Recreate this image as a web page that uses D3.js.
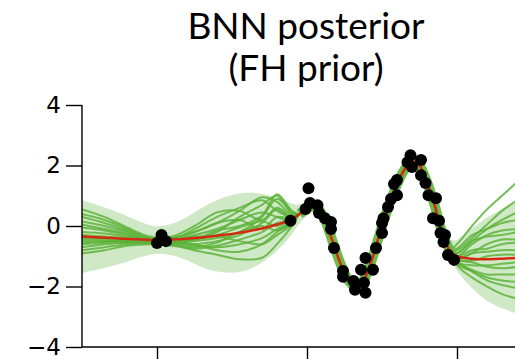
<!DOCTYPE html>
<html>
<head>
<meta charset="utf-8">
<script src="https://cdn.jsdelivr.net/npm/d3@7"></script>
<style>
  html, body { margin: 0; padding: 0; background: #fff; }
  svg { display: block; }
  text { fill: #000; }
</style>
</head>
<body>
<svg id="chart" width="515" height="359"></svg>
<script>
// ---------------- DATA ----------------
const titleLines = ["BNN posterior", "(FH prior)"];
const yTicks = [-4, -2, 0, 2, 4];
const xTicks = [-1, 0, 1];

// observed data points
const pointX = [-1.00, -0.97, -0.94, -0.11, -0.01, 0.01, 0.02, 0.07, 0.08, 0.12, 0.16, 0.16, 0.18,
  0.24, 0.24, 0.31, 0.32, 0.36, 0.38, 0.39, 0.39, 0.44, 0.46, 0.50, 0.50, 0.51, 0.54, 0.56, 0.60,
  0.58, 0.60, 0.67, 0.69, 0.70, 0.76, 0.76, 0.79, 0.81, 0.86, 0.84, 0.88, 0.89, 0.92, 0.91, 0.94, 0.98];
const pointY = [-0.56, -0.30, -0.50, 0.17, 0.56, 1.25, 0.76, 0.69, 0.43, 0.26, 0.13, -0.10, -0.73,
  -1.49, -1.68, -1.82, -2.11, -1.45, -1.88, -1.06, -2.21, -1.45, -0.73, -0.23, 0.10, 0.26, 0.63, 0.89, 1.02,
  1.39, 1.52, 2.11, 2.34, 1.95, 2.18, 1.68, 1.42, 1.02, 0.92, 0.26, 0.17, -0.23, -0.30, -0.53, -0.96, -1.12];

// posterior mean and spread (band = mean ± sd)
const meanX = [-1.5, -1.3, -1.1, -1.0, -0.9, -0.8, -0.7, -0.6, -0.5, -0.4, -0.3, -0.2, -0.1, -0.05,
  0.0, 0.03, 0.07, 0.12, 0.17, 0.22, 0.27, 0.32, 0.37, 0.42, 0.47, 0.52, 0.57, 0.62, 0.67, 0.71, 0.75,
  0.80, 0.85, 0.90, 0.95, 1.0, 1.1, 1.2, 1.3, 1.4];
const meanY = [-0.35, -0.40, -0.45, -0.47, -0.45, -0.42, -0.38, -0.32, -0.26, -0.18, -0.08, 0.05, 0.22, 0.40,
  0.58, 0.66, 0.58, 0.20, -0.50, -1.20, -1.75, -2.00, -1.85, -1.30, -0.50, 0.30, 1.00, 1.60, 2.00, 2.12, 2.00,
  1.45, 0.70, -0.20, -0.80, -1.00, -1.08, -1.10, -1.08, -1.05];
const meanSd = [1.20, 0.95, 0.55, 0.42, 0.50, 0.70, 1.00, 1.20, 1.30, 1.30, 1.15, 0.90, 0.50, 0.30,
  0.22, 0.20, 0.20, 0.20, 0.20, 0.20, 0.22, 0.22, 0.20, 0.20, 0.20, 0.20, 0.20, 0.20, 0.20, 0.20, 0.20,
  0.20, 0.20, 0.25, 0.30, 0.50, 1.00, 1.40, 1.65, 1.85];

// posterior function samples: left gap knots and right gap knots
const sampleLeftX = [-1.5, -1.35, -1.2, -1.05, -0.9, -0.75, -0.6, -0.45, -0.3, -0.2, -0.1];
const sampleRightX = [1.0, 1.1, 1.2, 1.3, 1.4];
const sampleLeft = [
  [0.55, 0.30, -0.05, -0.35, -0.40, -0.20, 0.10, 0.50, 0.95, 0.80, 0.35],
  [0.40, 0.20, -0.10, -0.40, -0.50, -0.45, -0.20, 0.30, 0.70, 1.00, 0.40],
  [0.30, 0.10, -0.15, -0.40, -0.35, 0.00, 0.45, 0.50, 0.20, 0.60, 0.30],
  [0.15, 0.00, -0.20, -0.45, -0.55, -0.60, -0.50, -0.30, 0.10, 0.55, 0.20],
  [0.05, -0.10, -0.25, -0.45, -0.45, -0.30, -0.10, 0.20, 0.45, 0.30, 0.15],
  [-0.05, -0.15, -0.30, -0.45, -0.60, -0.80, -0.95, -1.10, -1.05, -0.60, 0.00],
  [-0.20, -0.25, -0.35, -0.45, -0.40, -0.20, 0.10, 0.20, -0.10, 0.30, 0.25],
  [-0.30, -0.35, -0.40, -0.50, -0.55, -0.50, -0.40, -0.20, 0.30, 0.90, 0.45],
  [-0.40, -0.40, -0.45, -0.50, -0.55, -0.65, -0.70, -0.60, -0.40, -0.10, 0.10],
  [-0.45, -0.45, -0.50, -0.50, -0.45, -0.35, -0.35, -0.50, -0.60, -0.30, 0.05],
  [-0.55, -0.50, -0.50, -0.50, -0.50, -0.60, -0.80, -0.85, -0.60, -0.20, 0.15],
  [-0.60, -0.55, -0.55, -0.55, -0.45, -0.10, 0.30, 0.60, 0.85, 0.50, 0.30],
  [-0.70, -0.60, -0.55, -0.55, -0.60, -0.70, -0.55, -0.20, 0.00, -0.15, 0.10],
  [-0.80, -0.70, -0.60, -0.55, -0.55, -0.45, -0.15, 0.00, 0.35, 1.05, 0.50],
  [-0.90, -0.80, -0.65, -0.60, -0.65, -0.75, -0.65, -0.45, -0.20, 0.10, 0.20],
  [-0.50, -0.50, -0.50, -0.50, -0.50, -0.45, -0.30, -0.05, 0.15, 0.00, 0.20]
];
const sampleRight = [
  [-0.60, 0.00, 0.55, 1.00, 1.45],
  [-0.80, -0.40, 0.05, 0.50, 0.85],
  [-0.90, -0.50, -0.10, 0.20, 0.45],
  [-0.75, -0.30, -0.10, 0.10, 0.20],
  [-1.00, -0.60, -0.30, -0.15, -0.10],
  [-0.90, -0.50, -0.35, -0.30, -0.20],
  [-1.10, -0.90, -0.60, -0.45, -0.45],
  [-1.00, -0.80, -0.75, -0.60, -0.55],
  [-1.05, -0.90, -0.85, -0.80, -0.80],
  [-1.10, -1.15, -1.00, -0.95, -0.95],
  [-1.20, -1.30, -1.30, -1.25, -1.20],
  [-1.10, -1.20, -1.35, -1.40, -1.35],
  [-1.20, -1.45, -1.60, -1.60, -1.60],
  [-1.25, -1.50, -1.70, -1.80, -1.85],
  [-1.15, -1.50, -1.80, -1.95, -2.05],
  [-1.30, -1.70, -2.00, -2.25, -2.40]
];

// ---------------- CHART ----------------
const svg = d3.select("#chart");
const x = d3.scaleLinear().domain([-1.5, 1.5]).range([82, 532]);
const y = d3.scaleLinear().domain([-4, 4]).range([347, 105]);

svg.append("defs").append("clipPath").attr("id", "plotclip")
  .append("rect").attr("x", 82).attr("y", 95).attr("width", 450).attr("height", 252);

const plot = svg.append("g").attr("clip-path", "url(#plotclip)");

// band
const meanPts = meanX.map((d, i) => ({x: d, m: meanY[i], s: meanSd[i]}));
plot.append("path")
  .datum(meanPts)
  .attr("fill", "#cfe8c6")
  .attr("d", d3.area().curve(d3.curveBasis)
    .x(d => x(d.x)).y0(d => y(d.m - d.s)).y1(d => y(d.m + d.s)));

// samples
const midPts = meanPts.filter(d => d.x >= -0.05 && d.x <= 0.95);
const sampleLine = d3.line().curve(d3.curveCatmullRom.alpha(0.5)).x(d => x(d.x)).y(d => y(d.y));
sampleLeft.forEach((arr, k) => {
  const pts = sampleLeftX.map((d, i) => ({x: d, y: arr[i]}))
    .concat(midPts.map(d => ({x: d.x, y: d.m})))
    .concat(sampleRightX.map((d, i) => ({x: d, y: sampleRight[k][i]})));
  plot.append("path").datum(pts)
    .attr("fill", "none").attr("stroke", "#5db33a").attr("stroke-width", 2)
    .attr("stroke-opacity", 0.85).attr("d", sampleLine);
});

// overlapping samples around the data (dense tube)
plot.append("path").datum(midPts)
  .attr("fill", "none").attr("stroke", "#5db33a").attr("stroke-width", 10)
  .attr("stroke-linejoin", "round").attr("stroke-opacity", 0.9)
  .attr("d", d3.line().curve(d3.curveCatmullRom.alpha(0.5)).x(d => x(d.x)).y(d => y(d.m)));

// mean
plot.append("path").datum(meanPts)
  .attr("fill", "none").attr("stroke", "#d42a12").attr("stroke-width", 2.5)
  .attr("d", d3.line().curve(d3.curveCatmullRom.alpha(0.5)).x(d => x(d.x)).y(d => y(d.m)));

// data points
plot.selectAll("circle.pt").data(pointX.map((d, i) => ({x: d, y: pointY[i]})))
  .enter().append("circle").attr("class", "pt")
  .attr("cx", d => x(d.x)).attr("cy", d => y(d.y)).attr("r", 6).attr("fill", "#000");

// axes
const yAxis = d3.axisLeft(y).tickValues(yTicks).tickSize(16).tickPadding(5)
  .tickFormat(d => d < 0 ? "\u2212" + Math.abs(d) : String(d));
const gy = svg.append("g").attr("transform", "translate(82,0)").call(yAxis);
gy.select(".domain").attr("d", "M0,105V347").attr("stroke", "#000").attr("stroke-width", 1.4);
gy.selectAll(".tick line").attr("stroke", "#000").attr("stroke-width", 1.4);
gy.selectAll(".tick text").attr("fill", "#000")
  .style("font-family", "'DejaVu Sans', sans-serif").style("font-size", "23px");

const xAxis = d3.axisBottom(x).tickValues(xTicks).tickSize(14).tickFormat("");
const gx = svg.append("g").attr("transform", "translate(0,347)").call(xAxis);
gx.select(".domain").attr("d", "M82,0H532").attr("stroke", "#000").attr("stroke-width", 1.4);
gx.selectAll(".tick line").attr("stroke", "#000").attr("stroke-width", 1.4);

// title (two lines)
svg.selectAll("text.title").data(titleLines).enter().append("text")
  .attr("class", "title").attr("text-anchor", "middle")
  .style("font-family", "Lato, sans-serif").style("font-size", "37px")
  .attr("x", 306).attr("y", (d, i) => 39 + i * 42).text(d => d);
</script>
</body>
</html>
